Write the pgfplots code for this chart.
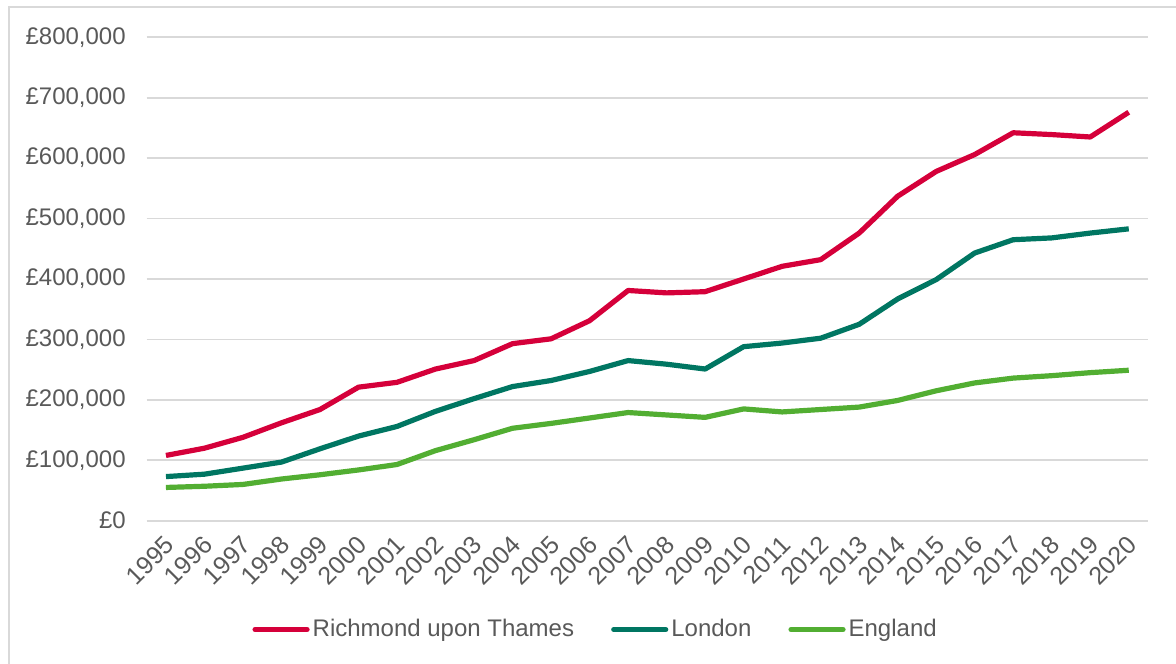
\documentclass[border=0pt]{standalone}
\usepackage{fontspec}
\setmainfont{Liberation Sans}
\usepackage{pgfplots}
\pgfplotsset{compat=1.18}
\definecolor{rich}{HTML}{D5003A}
\definecolor{lond}{HTML}{007662}
\definecolor{eng}{HTML}{52AE32}
\definecolor{txt}{HTML}{595959}
\definecolor{grd}{HTML}{D9D9D9}
\pgfplotstableread{
year rich lond eng
1995 108000 73000 55000
1996 120000 77000 57000
1997 138000 87000 60000
1998 162000 97000 69000
1999 184000 119000 76000
2000 221000 140000 84000
2001 229000 156000 93000
2002 251000 181000 116000
2003 265000 202000 134000
2004 293000 222000 153000
2005 301000 232000 161000
2006 331000 247000 170000
2007 381000 265000 179000
2008 377000 259000 175000
2009 379000 251000 171000
2010 400000 288000 185000
2011 421000 294000 180000
2012 432000 302000 184000
2013 476000 325000 188000
2014 537000 367000 199000
2015 578000 399000 215000
2016 606000 443000 228000
2017 642000 465000 236000
2018 639000 468000 240000
2019 635000 476000 245000
2020 676000 483000 249000
}\datatable
\begin{document}
\begin{tikzpicture}
\useasboundingbox (0pt,0pt) rectangle (588pt,331.5pt);
\draw[grd, line width=1pt] (4.3pt,-5pt) -- (4.3pt,327.8pt) -- (600pt,327.8pt);
\begin{axis}[
  at={(73.35pt,71.15pt)}, anchor=south west,
  scale only axis, width=500.65pt, height=241.7pt,
  xmin=1994.5, xmax=2020.5, ymin=0, ymax=800000,
  scaled y ticks=false, scaled x ticks=false,
  axis line style={draw=none},
  tick style={draw=none},
  ymajorgrids, grid style={grd, line width=0.9pt},
  xtick={1995,...,2020},
  xticklabels={1995,1996,1997,1998,1999,2000,2001,2002,2003,2004,2005,2006,2007,2008,2009,2010,2011,2012,2013,2014,2015,2016,2017,2018,2019,2020},
  ytick={0,100000,...,800000},
  yticklabels={£0,{£100,000},{£200,000},{£300,000},{£400,000},{£500,000},{£600,000},{£700,000},{£800,000}},
  yticklabel style={font=\fontsize{12}{14}\selectfont, text=txt, inner sep=0pt, anchor=east, xshift=-10.3pt},
  xticklabel style={font=\fontsize{12.5}{14}\selectfont, text=txt, inner sep=0pt, yshift=-10pt, xshift=2pt, rotate=45, anchor=east},
  legend columns=-1,
  legend style={at={(0.4488,-0.2252)}, anchor=center, draw=none, fill=none,
    font=\fontsize{12}{14}\selectfont, text=txt,
    /tikz/every even column/.append style={column sep=17pt},
    nodes={inner sep=1.5pt}},
  legend image code/.code={\draw[#1, line cap=round] (0pt,0pt) -- (26pt,0pt);},
  every axis plot/.append style={line width=2.6pt, line join=round},
]
\addplot[rich, mark=none] table[x=year, y=rich] {\datatable};
\addplot[lond, mark=none] table[x=year, y=lond] {\datatable};
\addplot[eng, mark=none] table[x=year, y=eng] {\datatable};
\legend{Richmond upon Thames, London, England}
\end{axis}
\end{tikzpicture}
\end{document}
